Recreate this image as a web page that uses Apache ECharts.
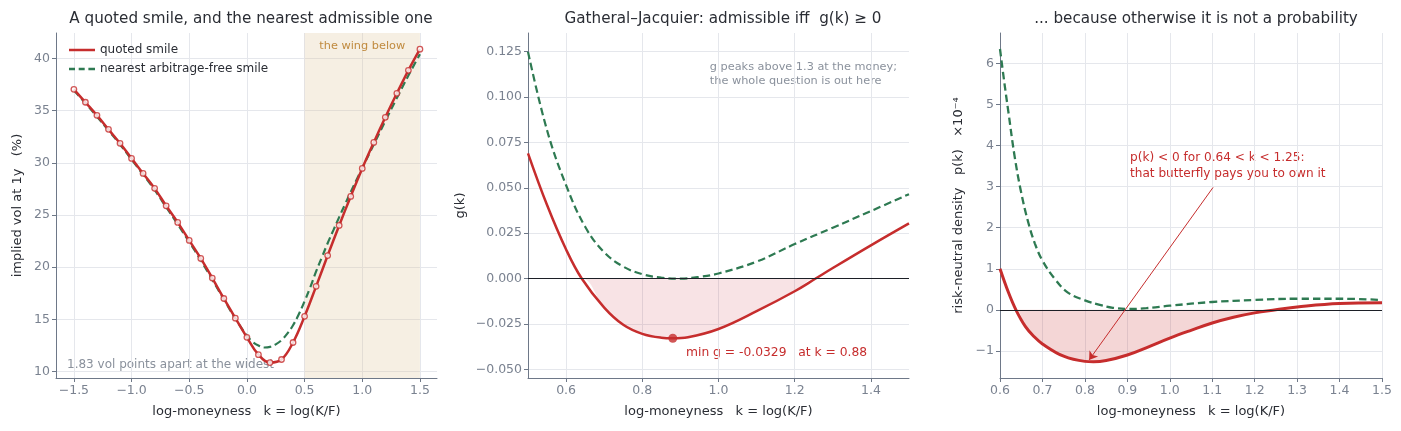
<!DOCTYPE html>
<html>
<head>
<meta charset="utf-8">
<title>smile</title>
<script src="https://cdn.jsdelivr.net/npm/echarts@6/dist/echarts.min.js"></script>
<style>
html, body { margin: 0; padding: 0; background: #fff; }
#main { width: 1401px; height: 431px; }
</style>
</head>
<body>
<div id="main"></div>
<script>
// panel 1 : quoted smile (points) and the nearest arbitrage-free one
var smileK = [-1.5, -1.4, -1.3, -1.2, -1.1, -1.0, -0.9, -0.8, -0.7, -0.6, -0.5, -0.4, -0.3, -0.2, -0.1,
              0.0, 0.1, 0.2, 0.3, 0.4, 0.5, 0.6, 0.7, 0.8, 0.9, 1.0, 1.1, 1.2, 1.3, 1.4, 1.5];
var quotedVol = [37.03, 35.79, 34.54, 33.2, 31.86, 30.42, 28.98, 27.55, 25.88, 24.29, 22.57, 20.84, 18.96, 17.01, 15.13,
                 13.29, 11.63, 10.88, 11.17, 12.8, 15.3, 18.17, 21.12, 24.0, 26.78, 29.46, 31.95, 34.35, 36.65, 38.85, 40.87];
var fitK = [-1.5, -1.4, -1.3, -1.2, -1.1, -1.0, -0.9, -0.8, -0.7, -0.6, -0.5, -0.4, -0.3, -0.2, -0.1,
            0.0, 0.05, 0.1, 0.15, 0.2, 0.25, 0.3, 0.35, 0.4, 0.45, 0.5, 0.55, 0.6, 0.65, 0.7, 0.75, 0.8, 0.85, 0.9, 0.95,
            1.0, 1.1, 1.2, 1.3, 1.4, 1.5];
var fitVol = [36.95, 35.7, 34.42, 33.1, 31.75, 30.32, 28.88, 27.4, 25.75, 24.12, 22.42, 20.68, 18.82, 16.92, 15.08,
              13.45, 12.85, 12.5, 12.32, 12.38, 12.62, 13.02, 13.65, 14.45, 15.5, 16.75, 18.1, 19.6, 20.95, 22.3, 23.55, 24.8, 26.0, 27.2, 28.35,
              29.5, 31.75, 34.0, 36.2, 38.35, 40.4];
var wingRange = [0.5, 1.5];

// panel 2 : g(k)
var gK = [0.5, 0.55, 0.6, 0.641, 0.7, 0.75, 0.8, 0.85, 0.88, 0.92, 1.0, 1.1, 1.2, 1.255, 1.3, 1.4, 1.5];
var gQuoted = [0.069, 0.0405, 0.016, 0.0, -0.016, -0.0255, -0.0305, -0.0326, -0.0329, -0.0323, -0.0278, -0.018, -0.007, 0.0, 0.0058, 0.0183, 0.0304];
var gFitK = [0.5, 0.55, 0.6, 0.65, 0.7, 0.75, 0.8, 0.85, 0.9, 0.95, 1.0, 1.1, 1.2, 1.3, 1.4, 1.5];
var gFit = [0.1249, 0.0817, 0.0514, 0.0285, 0.0145, 0.0066, 0.0024, 0.0005, 0.0, 0.0009, 0.0028, 0.0093, 0.019, 0.028, 0.0372, 0.0465];
var gMin = [0.88, -0.0329];

// panel 3 : risk-neutral density, units of 1e-4
var pK = [0.6, 0.62, 0.6375, 0.66, 0.68, 0.7, 0.75, 0.8, 0.82, 0.85, 0.9, 0.95, 1.0, 1.05, 1.1, 1.15, 1.2, 1.25, 1.3, 1.4, 1.5];
var pQuoted = [1.0, 0.42, 0.0, -0.41, -0.65, -0.83, -1.13, -1.255, -1.265, -1.235, -1.1, -0.9, -0.69, -0.5, -0.32, -0.18, -0.074, 0.0, 0.07, 0.155, 0.17];
var pFitK = [0.6, 0.61, 0.62, 0.635, 0.65, 0.666, 0.682, 0.7, 0.73, 0.76, 0.8, 0.835, 0.866, 0.9, 0.945, 1.0, 1.1, 1.2, 1.3, 1.4, 1.5];
var pFit = [6.35, 5.55, 4.8, 3.7, 2.85, 2.15, 1.62, 1.2, 0.74, 0.42, 0.23, 0.12, 0.05, 0.02, 0.04, 0.1, 0.19, 0.24, 0.27, 0.27, 0.24];
var arrowFrom = [1.102, 2.98];
var arrowTo = [0.81, -1.22];

// tick labels
var ticks1x = [-1.5, -1.0, -0.5, 0.0, 0.5, 1.0, 1.5];
var ticks1y = [10, 15, 20, 25, 30, 35, 40];
var ticks2x = [0.6, 0.8, 1.0, 1.2, 1.4];
var ticks2y = [-0.05, -0.025, 0, 0.025, 0.05, 0.075, 0.1, 0.125];
var ticks3x = [0.6, 0.7, 0.8, 0.9, 1.0, 1.1, 1.2, 1.3, 1.4, 1.5];
var ticks3y = [-1, 0, 1, 2, 3, 4, 5, 6];

var RED = '#c62d2d';
var GREEN = '#2e7a52';
var INK = '#2a2d34';
var MUTED = '#8a919c';
var TICK = '#7a8290';
var AXIS = '#6e7888';
var GRIDLINE = '#e5e7ec';
var FONT = 'DejaVu Sans';
var DASH = [7.5, 4];

var pairs = function(xs, ys) {
    var out = [];
    for (var i = 0; i < xs.length; i++) {
        out.push([xs[i], ys[i]]);
    }
    return out;
};
// only the part below zero, for the shaded area
var belowZero = function(xs, ys) {
    var out = [];
    for (var i = 0; i < xs.length; i++) {
        out.push([xs[i], Math.min(ys[i], 0)]);
    }
    return out;
};
var fmt = function(d) {
    return function(v) {
        return v.toFixed(d).replace('-', '\u2212');
    };
};

var xAxisOf = function(idx, min, max, ticks, dec) {
    return {
        type: 'value', gridIndex: idx, min: min, max: max,
        name: 'log-moneyness   k = log(K/F)', nameLocation: 'middle', nameGap: 27,
        nameTextStyle: { color: INK, fontSize: 13, fontFamily: FONT },
        axisLine: { show: true, onZero: false, lineStyle: { color: AXIS, width: 1 } },
        axisTick: { show: true, length: 4, customValues: ticks, lineStyle: { color: AXIS } },
        axisLabel: { customValues: ticks, formatter: fmt(dec), color: TICK, fontSize: 12.5, fontFamily: FONT, margin: 6 },
        splitLine: { show: true, lineStyle: { color: GRIDLINE, width: 1 } }
    };
};
var yAxisOf = function(idx, min, max, ticks, dec, name, gap) {
    return {
        type: 'value', gridIndex: idx, min: min, max: max,
        name: name, nameLocation: 'middle', nameGap: gap,
        nameTextStyle: { color: INK, fontSize: 13, fontFamily: FONT },
        axisLine: { show: true, onZero: false, lineStyle: { color: AXIS, width: 1 } },
        axisTick: { show: true, length: 4, customValues: ticks, lineStyle: { color: AXIS } },
        axisLabel: { customValues: ticks, formatter: fmt(dec), color: TICK, fontSize: 12.5, fontFamily: FONT, margin: 6 },
        splitLine: { show: true, lineStyle: { color: GRIDLINE, width: 1 } }
    };
};
var zeroLine = {
    silent: true, symbol: 'none', label: { show: false },
    lineStyle: { color: '#1c1f26', width: 1, type: 'solid' },
    data: [{ yAxis: 0 }]
};
var titleStyle = { color: INK, fontSize: 15.2, fontWeight: 'normal', fontFamily: FONT };

var option = {
    backgroundColor: '#fff',
    animation: false,
    title: [
        { text: 'A quoted smile, and the nearest admissible one', left: 246, top: 7, textAlign: 'center', textStyle: titleStyle },
        { text: 'Gatheral\u2013Jacquier: admissible iff  g(k) \u2265 0', left: 718, top: 7, textAlign: 'center', textStyle: titleStyle },
        { text: '... because otherwise it is not a probability', left: 1191, top: 7, textAlign: 'center', textStyle: titleStyle }
    ],
    legend: {
        left: 64, top: 39, orient: 'vertical', itemWidth: 26, itemHeight: 2.5, itemGap: 7,
        textStyle: { color: INK, fontSize: 12, fontFamily: FONT },
        data: [
            { name: 'quoted smile', icon: 'path://M0,0h26v2.5h-26z' },
            { name: 'nearest arbitrage-free smile', icon: 'path://M0,0h6v2.5h-6zM9.7,0h6v2.5h-6zM19.4,0h6.6v2.5h-6.6z' }
        ]
    },
    grid: [
        { left: 56, top: 33, width: 381, height: 345 },
        { left: 528, top: 33, width: 381, height: 345 },
        { left: 1000, top: 33, width: 382, height: 345 }
    ],
    xAxis: [
        xAxisOf(0, -1.655, 1.648, ticks1x, 1),
        xAxisOf(1, 0.5, 1.5, ticks2x, 1),
        xAxisOf(2, 0.6, 1.5, ticks3x, 1)
    ],
    yAxis: [
        yAxisOf(0, 9.4, 42.42, ticks1y, 0, 'implied vol at 1y   (%)', 32),
        yAxisOf(1, -0.0548, 0.1353, ticks2y, 3, 'g(k)', 61),
        yAxisOf(2, -1.66, 6.74, ticks3y, 0, 'risk-neutral density   p(k)   \u00d710\u207b\u2074', 35)
    ],
    graphic: [
        { type: 'text', left: 67, top: 359,
          style: { text: '1.83 vol points apart at the widest', fill: MUTED, font: '12px "DejaVu Sans"' } },
        { type: 'text', right: 1401 - 897, top: 60,
          style: { text: 'g peaks above 1.3 at the money;\nthe whole question is out here', fill: MUTED,
                   font: '11.3px "DejaVu Sans"', align: 'right', lineHeight: 14 } },
        { type: 'text', left: 686, top: 347,
          style: { text: 'min g = -0.0329   at k = 0.88', fill: RED, font: '12.3px "DejaVu Sans"' } },
        { type: 'text', left: 1130, top: 150,
          style: { text: 'p(k) < 0 for 0.64 < k < 1.25:\nthat butterfly pays you to own it', fill: RED,
                   font: '12.1px "DejaVu Sans"', lineHeight: 16 } }
    ],
    series: [
        {
            name: 'nearest arbitrage-free smile', type: 'line', xAxisIndex: 0, yAxisIndex: 0,
            data: pairs(fitK, fitVol), smooth: 0.4, symbol: 'none',
            lineStyle: { color: GREEN, width: 2.2, type: DASH }, itemStyle: { color: GREEN },
            markArea: {
                silent: true,
                itemStyle: { color: 'rgba(222,196,150,0.27)' },
                label: { show: true, position: 'insideTop', distance: 8, color: '#c08a3e', fontSize: 11.3, fontFamily: FONT },
                data: [[{ xAxis: wingRange[0], name: 'the wing below' }, { xAxis: wingRange[1] }]]
            }
        },
        {
            name: 'quoted smile', type: 'line', xAxisIndex: 0, yAxisIndex: 0,
            data: pairs(smileK, quotedVol), smooth: 0.4, symbol: 'none',
            lineStyle: { color: RED, width: 2.5 }, itemStyle: { color: RED }
        },
        {
            name: 'quotes', type: 'scatter', xAxisIndex: 0, yAxisIndex: 0,
            data: pairs(smileK, quotedVol), symbol: 'circle', symbolSize: 5.5,
            itemStyle: { color: '#fff', borderColor: RED, borderWidth: 1.3 }, z: 5
        },

        // panel 2
        {
            name: 'g below zero', type: 'line', xAxisIndex: 1, yAxisIndex: 1,
            data: belowZero(gK, gQuoted), smooth: 0.4, symbol: 'none',
            lineStyle: { opacity: 0 }, areaStyle: { color: 'rgba(204,60,70,0.2)' }
        },
        {
            name: 'g fit', type: 'line', xAxisIndex: 1, yAxisIndex: 1,
            data: pairs(gFitK, gFit), smooth: 0.4, symbol: 'none',
            lineStyle: { color: GREEN, width: 2.2, type: DASH }
        },
        {
            name: 'g quoted', type: 'line', xAxisIndex: 1, yAxisIndex: 1,
            data: pairs(gK, gQuoted), smooth: 0.4, symbol: 'none',
            lineStyle: { color: RED, width: 2.5 }, markLine: zeroLine
        },
        {
            name: 'g min', type: 'scatter', xAxisIndex: 1, yAxisIndex: 1,
            data: [gMin], symbol: 'circle', symbolSize: 9, itemStyle: { color: RED }, z: 5
        },

        // panel 3
        {
            name: 'p below zero', type: 'line', xAxisIndex: 2, yAxisIndex: 2,
            data: belowZero(pK, pQuoted), smooth: 0.4, symbol: 'none',
            lineStyle: { opacity: 0 }, areaStyle: { color: 'rgba(204,60,60,0.3)' }
        },
        {
            name: 'p fit', type: 'line', xAxisIndex: 2, yAxisIndex: 2,
            data: pairs(pFitK, pFit), smooth: 0.4, symbol: 'none',
            lineStyle: { color: GREEN, width: 2.3, type: DASH }
        },
        {
            name: 'p quoted', type: 'line', xAxisIndex: 2, yAxisIndex: 2,
            data: pairs(pK, pQuoted), smooth: 0.4, symbol: 'none',
            lineStyle: { color: RED, width: 3 }, markLine: zeroLine
        },
        {
            name: 'arrow', type: 'line', xAxisIndex: 2, yAxisIndex: 2, data: [],
            markLine: {
                silent: true, symbol: ['none', 'arrow'], symbolSize: 8, label: { show: false },
                lineStyle: { color: RED, width: 1, type: 'solid' },
                data: [[{ coord: arrowFrom }, { coord: arrowTo }]]
            }
        }
    ]
};

var myChart = echarts.init(document.getElementById('main'));
myChart.setOption(option);
</script>
</body>
</html>
